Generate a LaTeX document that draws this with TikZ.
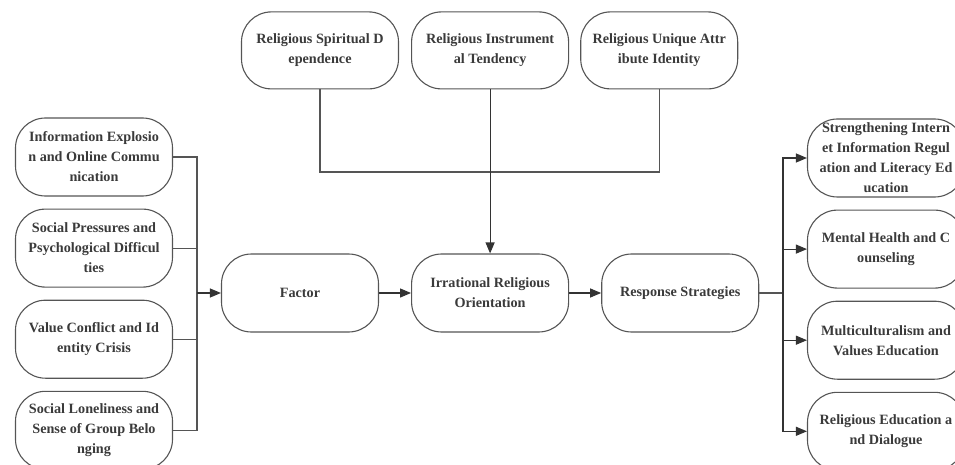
\documentclass[tikz,border=0pt]{standalone}
\usepackage{fontspec}
\setmainfont{Liberation Serif}
\usepackage{tikz}
\usetikzlibrary{positioning,arrows.meta}
\definecolor{edgegray}{HTML}{555555}
\definecolor{tipgray}{HTML}{333333}
\definecolor{textgray}{HTML}{3A3A3A}
\tikzset{
  box/.style={rectangle, rounded corners=30pt, draw=edgegray, line width=1.1pt,
              minimum width=157pt, minimum height=78pt, inner xsep=0pt,
              align=center, text=textgray, font=\fontsize{14.2}{20}\selectfont\bfseries},
  conn/.style={draw=edgegray, line width=1.1pt},
  arr/.style={conn, -{Triangle[length=11pt,width=9pt]}, tipgray},
}

\begin{document}
\begin{tikzpicture}[x=1pt, y=-1pt, node distance=12pt]
  \clip (0,0) rectangle (955,465);
  \useasboundingbox (0,0) rectangle (955,465);

  % main row
  \node[box] (factor) at (300,293) {Factor};
  \node[box] (irr) [right=32pt of factor] {Irrational Religious\\Orientation};
  \node[box] (resp) [right=32pt of irr] {Response Strategies};

  % top row
  \node[box, minimum height=77pt] (spirit) [above=164pt of irr] {Religious Instrument\\al Tendency};
  \node[box, minimum height=77pt] (depend) [left=12pt of spirit] {Religious Spiritual D\\ependence};
  \node[box, minimum height=77pt] (ident) [right=11pt of spirit] {Religious Unique Attr\\ibute Identity};

  % left column
  \node[box] (info) at (94,157) {Information Explosio\\n and Online Commu\\nication};
  \node[box] (press) [below=of info] {Social Pressures and\\Psychological Difficul\\ties};
  \node[box] (value) [below=of press] {Value Conflict and Id\\entity Crisis};
  \node[box] (lonely) [below=of value] {Social Loneliness and\\Sense of Group Belo\\nging};

  % right column
  \node[box] (reg) at (886,158) {Strengthening Intern\\et Information Regul\\ation and Literacy Ed\\ucation};
  \node[box] (mental) [below=of reg] {Mental Health and C\\ounseling};
  \node[box] (multi) [below=of mental] {Multiculturalism and\\Values Education};
  \node[box] (dialog) [below=of multi] {Religious Education a\\nd Dialogue};

  \coordinate (lbus) at (197,293);
  \coordinate (rbus) at (783,293);
  \coordinate (tbus) at (490,172);

  \foreach \n in {info,press,value,lonely}
    \draw[conn] (\n.east) -| (lbus);
  \draw[arr] (lbus) -- (factor);
  \draw[arr] (factor) -- (irr);
  \draw[arr] (irr) -- (resp);

  \draw[conn] (depend.south) |- (tbus) -| (ident.south);
  \draw[arr] (spirit) -- (irr);

  \draw[conn] (resp) -- (rbus);
  \foreach \n in {reg,mental,multi,dialog}
    \draw[arr] (rbus) |- (\n.west);

\end{tikzpicture}
\end{document}
